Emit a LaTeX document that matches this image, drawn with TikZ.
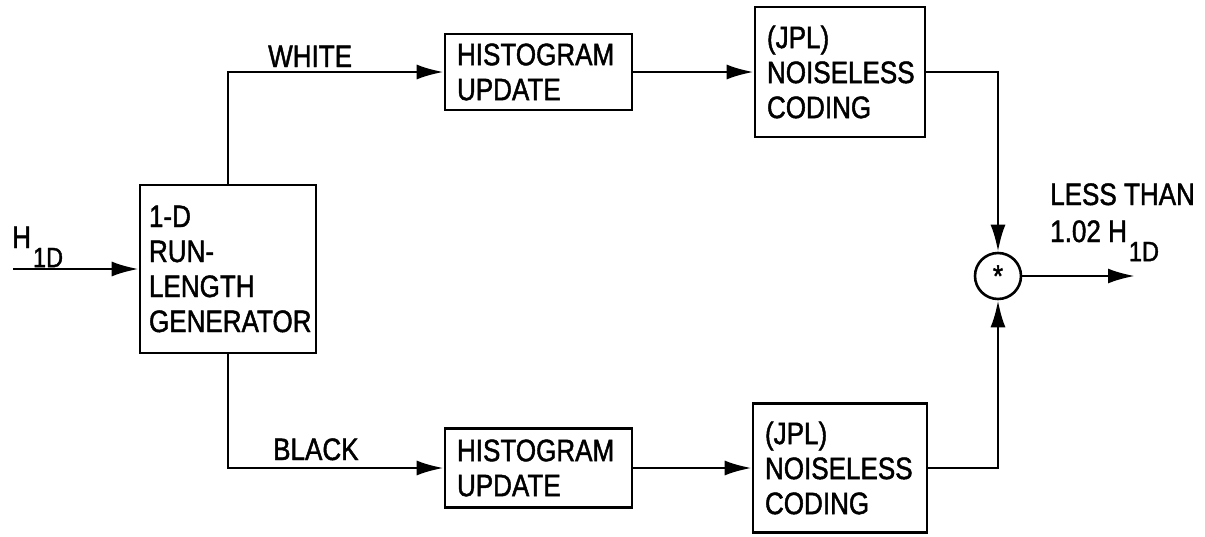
\documentclass[tikz,border=0pt]{standalone}
\usepackage{fontspec}
\setmainfont{Liberation Sans}[FakeStretch=0.84,FakeBold=1.4]
\usetikzlibrary{arrows.meta,calc}
\newcommand{\lowsub}[1]{\hspace{2pt}\raisebox{-0.62em}{\fontsize{28}{28}\selectfont #1}}

\begin{document}
\begin{tikzpicture}[x=1pt,y=-1pt,
  every node/.style={font=\fontsize{31}{35}\selectfont},
  blk/.style={draw, line width=2.6pt, rectangle, align=left,
              inner xsep=12pt, inner ysep=0pt},
  wire/.style={line width=2.8pt},
  flow/.style={wire, -{Latex[length=27pt,width=15pt]}},
  lbl/.style={inner sep=0pt, anchor=base west}]
\useasboundingbox (0,0) rectangle (1205,536);

% blocks
\node[blk, inner xsep=9pt, text width=158pt, minimum height=168pt]
  (gen) at (228,269) {1-D\\RUN-\\LENGTH\\GENERATOR};
\node[blk, text width=163pt, minimum height=76pt]
  (hw) at (538.5,72) {HISTOGRAM\\UPDATE};
\node[blk, text width=163pt, minimum height=79pt]
  (hb) at (538.5,468) {HISTOGRAM\\UPDATE};
\node[blk, text width=146pt, minimum height=130pt]
  (cw) at (840,72) {(JPL)\\NOISELESS\\CODING};
\node[blk, text width=150pt, minimum height=129pt]
  (cb) at (840,468) {(JPL)\\NOISELESS\\CODING};
\node[draw, circle, line width=2.6pt, minimum size=46pt, inner sep=0pt]
  (mix) at (998,276) {\raisebox{-0.42em}{*}};

% junction points and free ends
\coordinate (in) at (13,269);
\coordinate (wt) at (228,72);
\coordinate (bt) at (228,468);
\coordinate (cr) at (998,72);
\coordinate (br) at (998,468);
\coordinate (out) at (1135,276);

% connectors
\draw[flow] (in) -- (gen.west);
\draw[flow] (gen.north) -- (wt) -- (hw.west);
\draw[flow] (gen.south) -- (bt) -- (hb.west);
\draw[flow] (hw.east) -- (cw.west);
\draw[flow] (hb.east) -- (cb.west);
\draw[flow] (cw.east) -- (cr) -- (mix.north);
\draw[flow] (cb.east) -- (br) -- (mix.south);
\draw[flow] (mix.east) -- (out);

% labels
\node[lbl] (hin) at (12,248) {H\lowsub{1D}};
\node[lbl] (white) at (268,67) {WHITE};
\node[lbl] (black) at (273,460) {BLACK};
\node[lbl] (less) at (1050,205) {LESS THAN};
\node[lbl] (ratio) at (1050,242) {1.02 H\lowsub{1D}};
\end{tikzpicture}
\end{document}
